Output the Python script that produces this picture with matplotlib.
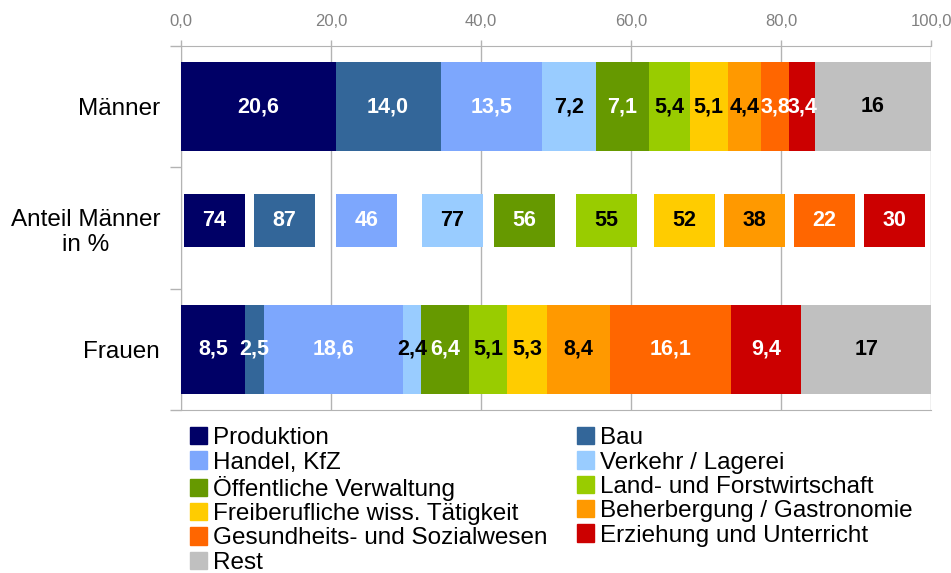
import matplotlib.pyplot as plt
import matplotlib.patches as mpatches

plt.rcParams['font.family'] = ['Liberation Sans', 'DejaVu Sans']

# data
branchen = ['Produktion', 'Bau', 'Handel, KfZ', 'Verkehr / Lagerei',
            'Öffentliche Verwaltung', 'Land- und Forstwirtschaft',
            'Freiberufliche wiss. Tätigkeit', 'Beherbergung / Gastronomie',
            'Gesundheits- und Sozialwesen', 'Erziehung und Unterricht', 'Rest']
maenner = [20.6, 14.0, 13.5, 7.2, 7.1, 5.4, 5.1, 4.4, 3.8, 3.4, 15.5]
frauen = [8.5, 2.5, 18.6, 2.4, 6.4, 5.1, 5.3, 8.4, 16.1, 9.4, 17.3]
anteil_maenner = [74, 87, 46, 77, 56, 55, 52, 38, 22, 30]
zeilen = ['Männer', 'Anteil Männer\nin %', 'Frauen']
x_ticks = [0, 20, 40, 60, 80, 100]

farben = ['#000066', '#336699', '#7da7fd', '#99ccff', '#669900', '#99cc00',
          '#ffcc00', '#ff9900', '#ff6600', '#cc0000', '#c0c0c0']
textfarben = ['white', 'white', 'white', 'black', 'white', 'black',
              'black', 'black', 'white', 'white', 'black']

# spacing of the share boxes in the middle row
box_gap = [0.4, 1.2, 2.8, 3.33, 1.47, 2.8, 2.27, 1.2, 1.2, 1.2]
box_w = 8.13

def fmt(v, i):
    if i == len(branchen) - 1:
        return '%.0f' % v
    return ('%.1f' % v).replace('.', ',')

fig = plt.figure(figsize=(9.51, 5.73), dpi=100)
ax = fig.add_axes([181/951, 1-410/573, 750/951, 364/573])

bar_h = 0.73
lab_font = dict(fontsize=15.5, fontweight='bold', ha='center', va='center')

# Männer row
left = 0
for i, v in enumerate(maenner):
    ax.barh(0.5, v, left=left, height=bar_h, color=farben[i], zorder=3)
    ax.text(left + v/2, 0.5, fmt(v, i), color=textfarben[i], zorder=4, **lab_font)
    left += v

# Frauen row
left = 0
for i, v in enumerate(frauen):
    ax.barh(2.5, v, left=left, height=bar_h, color=farben[i], zorder=3)
    ax.text(left + v/2, 2.5, fmt(v, i), color=textfarben[i], zorder=4, **lab_font)
    left += v

# Anteil Männer boxes
left = 0
for i, v in enumerate(anteil_maenner):
    left += box_gap[i]
    ax.barh(1.438, box_w, left=left, height=0.436, color=farben[i], zorder=3)
    ax.text(left + box_w/2, 1.438, str(v), color=textfarben[i], zorder=4, **lab_font)
    left += box_w

ax.set_xlim(0, 100)
ax.set_ylim(3, 0)

grid_c = '#b3b3b3'
ax.xaxis.tick_top()
ax.set_xticks(x_ticks)
ax.set_xticklabels([('%.1f' % t).replace('.', ',') for t in x_ticks])
ax.tick_params(axis='x', length=4, color=grid_c, labelcolor='#808080',
               labelsize=12, pad=8, width=1)
ax.grid(axis='x', color=grid_c, lw=1, zorder=0)

ax.set_yticks([0.5, 1.5, 2.5])
ax.set_yticklabels(zeilen, fontsize=17.5, ha='right', multialignment='center')
ax.set_yticks([0, 1, 2, 3], minor=True)
ax.tick_params(axis='y', which='major', length=0, pad=15)
ax.tick_params(axis='y', which='minor', length=8, color=grid_c, width=1)

for s in ['top', 'bottom', 'left']:
    ax.spines[s].set_color(grid_c)
ax.spines['right'].set_visible(False)

# legend, row-wise order in two columns
reihenfolge = [0, 2, 4, 6, 8, 10, 1, 3, 5, 7, 9]
handles = [mpatches.Patch(color=farben[i], label=branchen[i]) for i in reihenfolge]
fig.legend(handles=handles, loc='upper left', ncol=2,
           bbox_to_anchor=(190/951, 1-427/573), frameon=False,
           fontsize=17.5, handlelength=0.7, handleheight=0.72,
           handletextpad=0.25, labelspacing=0.09, columnspacing=1.2,
           borderpad=0, borderaxespad=0)

fig.savefig('out.png', dpi=100)
